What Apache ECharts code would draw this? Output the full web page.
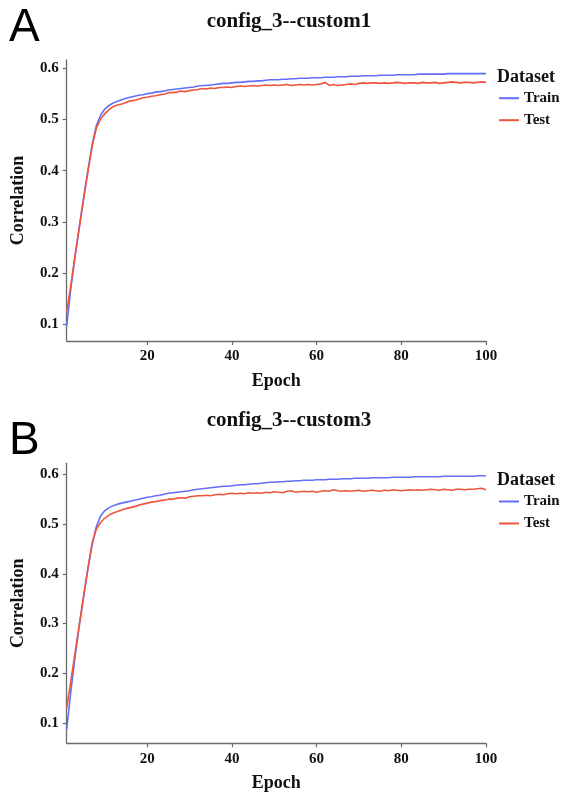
<!DOCTYPE html>
<html>
<head>
<meta charset="utf-8">
<style>
  html, body { margin: 0; padding: 0; background: #fff; }
  #chart { width: 561px; height: 795px; }
</style>
<script src="https://cdn.jsdelivr.net/npm/echarts@6/dist/echarts.min.js"></script>
</head>
<body>
<div id="chart"></div>
<script>
// Epoch index shared by both panels
const epochs = Array.from({ length: 100 }, (_, i) => i + 1);

// Panel A: config_3--custom1
const trainA = [
  0.097, 0.172, 0.235, 0.292, 0.348, 0.400, 0.450, 0.488, 0.508, 0.520,
  0.527, 0.532, 0.535, 0.538, 0.541, 0.543, 0.545, 0.547, 0.548, 0.550,
  0.551, 0.553, 0.554, 0.555, 0.557, 0.558, 0.559, 0.560, 0.561, 0.562,
  0.563, 0.565, 0.566, 0.566, 0.567, 0.568, 0.569, 0.570, 0.570, 0.571,
  0.572, 0.572, 0.573, 0.574, 0.574, 0.575, 0.575, 0.576, 0.577, 0.577,
  0.577, 0.578, 0.578, 0.579, 0.579, 0.580, 0.580, 0.580, 0.581, 0.581,
  0.581, 0.582, 0.582, 0.582, 0.583, 0.583, 0.583, 0.584, 0.584, 0.584,
  0.585, 0.585, 0.585, 0.585, 0.586, 0.586, 0.586, 0.586, 0.587, 0.587,
  0.587, 0.587, 0.587, 0.588, 0.588, 0.588, 0.588, 0.588, 0.588, 0.588,
  0.589, 0.589, 0.589, 0.589, 0.589, 0.589, 0.589, 0.589, 0.589, 0.589
];
const testA = [
  0.125, 0.178, 0.236, 0.290, 0.345, 0.397, 0.447, 0.483, 0.501, 0.511,
  0.519, 0.525, 0.528, 0.530, 0.533, 0.536, 0.537, 0.539, 0.542, 0.543,
  0.545, 0.546, 0.548, 0.549, 0.552, 0.552, 0.553, 0.555, 0.554, 0.556,
  0.557, 0.558, 0.560, 0.559, 0.561, 0.560, 0.562, 0.562, 0.563, 0.562,
  0.564, 0.565, 0.564, 0.565, 0.566, 0.565, 0.566, 0.567, 0.566, 0.567,
  0.566, 0.567, 0.568, 0.566, 0.567, 0.568, 0.567, 0.568, 0.567, 0.568,
  0.569, 0.572, 0.566, 0.568, 0.566, 0.567, 0.568, 0.569, 0.568, 0.570,
  0.571, 0.570, 0.571, 0.571, 0.570, 0.571, 0.570, 0.571, 0.572, 0.571,
  0.570, 0.571, 0.571, 0.570, 0.572, 0.571, 0.571, 0.572, 0.570, 0.571,
  0.572, 0.573, 0.572, 0.571, 0.572, 0.572, 0.571, 0.572, 0.573, 0.572
];

// Panel B: config_3--custom3
const trainB = [
  0.087, 0.165, 0.235, 0.297, 0.355, 0.410, 0.458, 0.495, 0.516, 0.527,
  0.533, 0.537, 0.540, 0.542, 0.544, 0.546, 0.548, 0.550, 0.552, 0.554,
  0.555, 0.557, 0.558, 0.560, 0.562, 0.563, 0.564, 0.565, 0.566, 0.567,
  0.569, 0.570, 0.571, 0.572, 0.573, 0.574, 0.575, 0.576, 0.576, 0.577,
  0.578, 0.579, 0.579, 0.580, 0.581, 0.581, 0.582, 0.583, 0.584, 0.584,
  0.585, 0.585, 0.586, 0.586, 0.587, 0.587, 0.588, 0.588, 0.588, 0.589,
  0.589, 0.589, 0.590, 0.590, 0.590, 0.591, 0.591, 0.591, 0.592, 0.592,
  0.592, 0.592, 0.593, 0.593, 0.593, 0.593, 0.593, 0.594, 0.594, 0.594,
  0.594, 0.594, 0.595, 0.595, 0.595, 0.595, 0.595, 0.595, 0.595, 0.596,
  0.596, 0.596, 0.596, 0.596, 0.596, 0.596, 0.596, 0.597, 0.597, 0.597
];
const testB = [
  0.130, 0.185, 0.243, 0.300, 0.355, 0.410, 0.462, 0.490, 0.503, 0.512,
  0.518, 0.522, 0.525, 0.528, 0.531, 0.533, 0.535, 0.538, 0.540, 0.542,
  0.544, 0.545, 0.547, 0.548, 0.550, 0.550, 0.552, 0.553, 0.552, 0.555,
  0.556, 0.557, 0.557, 0.558, 0.557, 0.559, 0.560, 0.559, 0.561, 0.562,
  0.561, 0.562, 0.561, 0.563, 0.562, 0.563, 0.562, 0.564, 0.563, 0.565,
  0.564, 0.563, 0.566, 0.567, 0.564, 0.565, 0.566, 0.565, 0.566, 0.564,
  0.566, 0.567, 0.566, 0.569, 0.567, 0.566, 0.567, 0.566, 0.567, 0.568,
  0.566, 0.567, 0.568, 0.567, 0.566, 0.568, 0.567, 0.569, 0.568, 0.567,
  0.568, 0.569, 0.568, 0.569, 0.568, 0.569, 0.570, 0.569, 0.568, 0.570,
  0.569, 0.568, 0.570, 0.570, 0.569, 0.570, 0.570, 0.571, 0.572, 0.569
];

// Tick labels
const xTicks = [20, 40, 60, 80, 100];
const yTicks = [0.1, 0.2, 0.3, 0.4, 0.5, 0.6];

const panelTitles = ['config_3--custom1', 'config_3--custom3'];
const panelLetters = ['A', 'B'];
const seriesNames = ['Train', 'Test'];

const SERIF = '"Liberation Serif", "Times New Roman", serif';
const BLUE = '#636EFA';
const RED = '#EF553B';
const AXIS_COLOR = '#6b6b6b';

const grids = [
  { left: 66.7, right: 75, top: 60, height: 281 },
  { left: 66.7, right: 75, top: 463.3, height: 280 }
];
const yRanges = [
  { min: 0.068, max: 0.6156 },
  { min: 0.0592, max: 0.6221 }
];

function pairs(values) {
  return epochs.map((e, i) => [e, values[i]]);
}

const axisCommon = {
  axisLine: { show: true, lineStyle: { color: AXIS_COLOR, width: 1.3 } },
  axisTick: { show: true, length: 4, lineStyle: { color: AXIS_COLOR, width: 1.2 } },
  splitLine: { show: false },
  axisLabel: { color: '#111', fontFamily: SERIF, fontWeight: 'bold', fontSize: 15, margin: 8 },
  nameTextStyle: { color: '#111', fontFamily: SERIF, fontWeight: 'bold', fontSize: 18 }
};

const xAxes = [0, 1].map(i => ({
  ...axisCommon,
  type: 'value',
  gridIndex: i,
  min: 1,
  max: 100,
  name: 'Epoch',
  nameLocation: 'middle',
  nameGap: 31,
  axisTick: { ...axisCommon.axisTick, customValues: xTicks },
  axisLabel: { ...axisCommon.axisLabel, customValues: xTicks }
}));

const yAxes = [0, 1].map(i => ({
  ...axisCommon,
  type: 'value',
  gridIndex: i,
  min: yRanges[i].min,
  max: yRanges[i].max,
  name: 'Correlation',
  nameLocation: 'middle',
  nameGap: 39,
  axisTick: { ...axisCommon.axisTick, customValues: yTicks },
  axisLabel: { ...axisCommon.axisLabel, customValues: yTicks, formatter: v => v.toFixed(1) }
}));

const panelData = [[trainA, testA], [trainB, testB]];
const series = [];
panelData.forEach((pair, p) => {
  pair.forEach((vals, k) => {
    series.push({
      name: seriesNames[k],
      type: 'line',
      xAxisIndex: p,
      yAxisIndex: p,
      data: pairs(vals),
      showSymbol: false,
      smooth: false,
      color: k === 0 ? BLUE : RED,
      lineStyle: { width: 1.6, color: k === 0 ? BLUE : RED },
      z: 2 + k
    });
  });
});

const legendTops = [90.7, 494];
const legends = legendTops.map(t => ({
  orient: 'vertical',
  left: 499,
  top: t,
  padding: 0,
  icon: 'rect',
  itemWidth: 20,
  itemHeight: 2,
  itemGap: 7,
  data: seriesNames,
  textStyle: { color: '#111', fontFamily: SERIF, fontWeight: 'bold', fontSize: 15, lineHeight: 15, padding: [0, 0, 0, 0] }
}));

const titleY = [22, 421];
const letterY = [28.5, 441.5];
const datasetY = [77, 480];
const graphics = [];
[0, 1].forEach(i => {
  graphics.push({
    type: 'text', x: 289, y: titleY[i],
    style: { text: panelTitles[i], textAlign: 'center', textVerticalAlign: 'middle',
      font: 'bold 21px ' + SERIF, fill: '#111' }
  });
  graphics.push({
    type: 'text', x: 9, y: letterY[i],
    style: { text: panelLetters[i], textAlign: 'left', textVerticalAlign: 'middle',
      font: '46px "Liberation Sans", Arial, sans-serif', fill: '#000' }
  });
  graphics.push({
    type: 'text', x: 497, y: datasetY[i],
    style: { text: 'Dataset', textAlign: 'left', textVerticalAlign: 'middle',
      font: 'bold 18px ' + SERIF, fill: '#111' }
  });
});

const chart = echarts.init(document.getElementById('chart'), null, { renderer: 'canvas' });
chart.setOption({
  backgroundColor: '#fff',
  animation: false,
  grid: grids,
  xAxis: xAxes,
  yAxis: yAxes,
  legend: legends,
  series: series,
  graphic: graphics
});
</script>
</body>
</html>
